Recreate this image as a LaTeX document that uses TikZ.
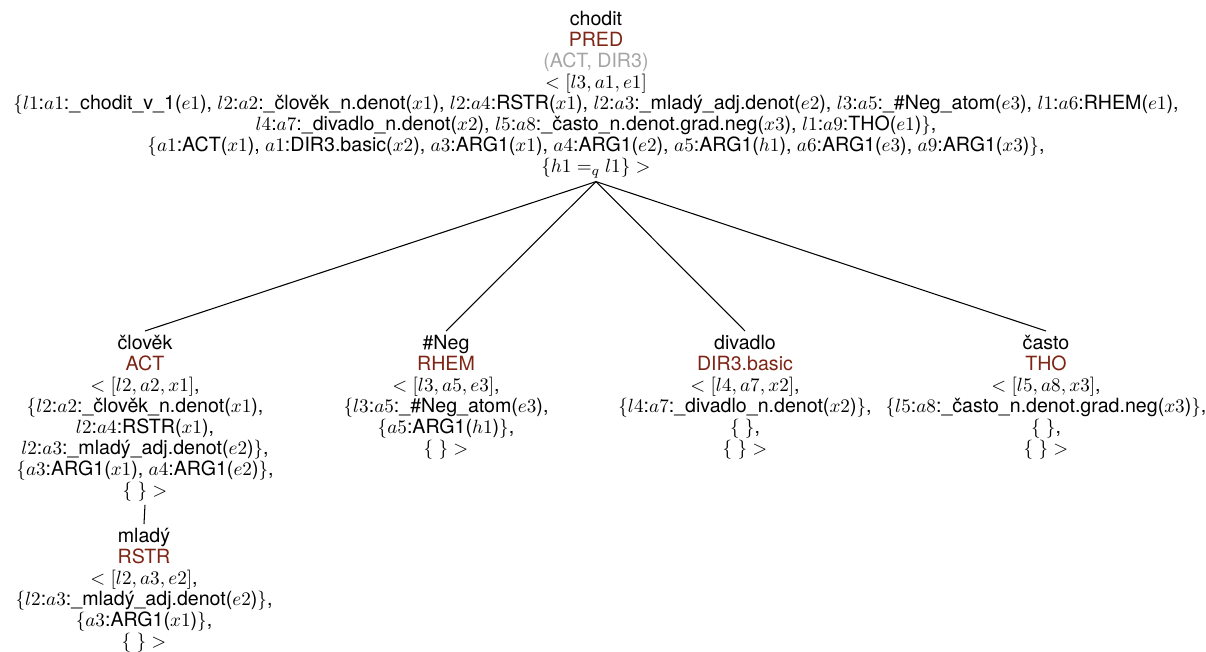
\documentclass[tikz,border=0pt]{standalone}
\usepackage[no-math]{fontspec}
\setmainfont{TeX Gyre Heros}
\definecolor{fnc}{RGB}{125,36,20}
\definecolor{gry}{RGB}{165,165,165}
\tikzset{
  tn/.style={anchor=north, align=center, inner sep=2pt, font=\fontsize{11.2}{12}\selectfont},
  br/.style={draw=black, line width=0.6pt}
}
\newcommand{\fn}[1]{{\color{fnc}#1}}
\begin{document}
\begin{tikzpicture}[x=0.5714pt, y=-0.5714pt]
\useasboundingbox (0,0) rectangle (1206,651);
\node[tn] (top) at (596,7) {chodit\\ \fn{PRED}\\ {\color{gry}(ACT, DIR3)}\\
$<[l3,a1,e1]$\\
$\{l1$:$a1$:\_chodit\_v\_1($e1$), $l2$:$a2$:\_člověk\_n.denot($x1$), $l2$:$a4$:RSTR($x1$), $l2$:$a3$:\_mladý\_adj.denot($e2$), $l3$:$a5$:\_\#Neg\_atom($e3$), $l1$:$a6$:RHEM($e1$),\\
$l4$:$a7$:\_divadlo\_n.denot($x2$), $l5$:$a8$:\_často\_n.denot.grad.neg($x3$), $l1$:$a9$:THO($e1$)$\}$,\\
$\{a1$:ACT($x1$), $a1$:DIR3.basic($x2$), $a3$:ARG1($x1$), $a4$:ARG1($e2$), $a5$:ARG1($h1$), $a6$:ARG1($e3$), $a9$:ARG1($x3$)$\}$,\\
$\{h1 =_q l1\} >$};
\node[tn] (clovek) at (145,331) {člověk\\ \fn{ACT}\\ $<[l2,a2,x1]$,\\
$\{l2$:$a2$:\_člověk\_n.denot($x1$),\\
$l2$:$a4$:RSTR($x1$),\\
$l2$:$a3$:\_mladý\_adj.denot($e2$)$\}$,\\
$\{a3$:ARG1($x1$), $a4$:ARG1($e2$)$\}$,\\
$\{\;\}>$};
\node[tn] (neg) at (446,331) {\#Neg\\ \fn{RHEM}\\ $<[l3,a5,e3]$,\\
$\{l3$:$a5$:\_\#Neg\_atom($e3$),\\
$\{a5$:ARG1($h1$)$\}$,\\
$\{\;\}>$};
\node[tn] (divadlo) at (745,331) {divadlo\\ \fn{DIR3.basic}\\ $<[l4,a7,x2]$,\\
$\{l4$:$a7$:\_divadlo\_n.denot($x2$)$\}$,\\
$\{\;\}$,\\
$\{\;\}>$};
\node[tn] (casto) at (1046,331) {často\\ \fn{THO}\\ $<[l5,a8,x3]$,\\
$\{l5$:$a8$:\_často\_n.denot.grad.neg($x3$)$\}$,\\
$\{\;\}$,\\
$\{\;\}>$};
\node[tn] (mlady) at (144,524) {mladý\\ \fn{RSTR}\\ $<[l2,a3,e2]$,\\
$\{l2$:$a3$:\_mladý\_adj.denot($e2$)$\}$,\\
$\{a3$:ARG1($x1$)$\}$,\\
$\{\;\}>$};
\draw[br] (top.south) -- (clovek.north);
\draw[br] (top.south) -- (neg.north);
\draw[br] (top.south) -- (divadlo.north);
\draw[br] (top.south) -- (casto.north);
\draw[br] (clovek.south) -- (mlady.north);
\end{tikzpicture}
\end{document}
